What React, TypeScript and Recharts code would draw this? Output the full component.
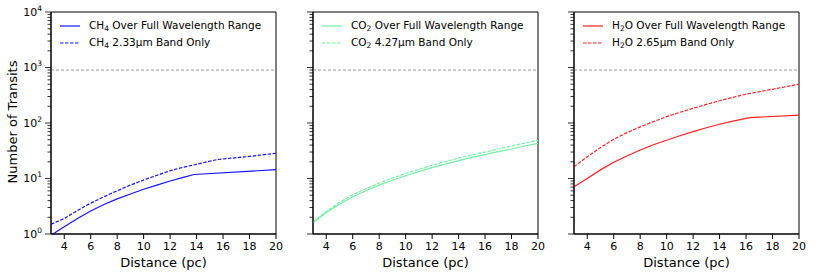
import React from "react";
import {LineChart, Line, XAxis, YAxis, ReferenceLine, ReferenceArea} from "recharts";

// distances (pc) and number of transits
const ch4FullDist = [3, 4, 5, 6, 7, 8, 9, 10, 11, 12, 13, 13.8, 20];
const ch4FullVals = [0.95, 1.35, 1.9, 2.6, 3.4, 4.3, 5.25, 6.4, 7.6, 9.0, 10.5, 11.8, 14.4];
const ch4BandDist = [3, 4, 5, 6, 7, 8, 9, 10, 11, 12, 13, 14, 15, 15.6, 18, 20];
const ch4BandVals = [1.5, 1.9, 2.65, 3.6, 4.7, 6.0, 7.6, 9.4, 11.4, 13.8, 16, 18, 20.5, 22, 25, 28.5];

const co2Dist = [3, 4, 5, 6, 7, 8, 9, 10, 11, 12, 13, 14, 15, 16, 17, 18, 19, 20];
const co2FullVals = [1.6, 2.45, 3.45, 4.7, 6.0, 7.6, 9.3, 11.2, 13.3, 15.7, 18.2, 21, 24, 27, 30.5, 34, 38.5, 43];
const co2BandVals = [1.65, 2.55, 3.7, 5.1, 6.5, 8.3, 10.2, 12.3, 14.7, 17.3, 20.2, 23.3, 26.6, 30, 34, 38.5, 43.5, 49];

const h2oFullDist = [3, 4, 5, 6, 7, 8, 9, 10, 11, 12, 13, 14, 15, 16.3, 20];
const h2oFullVals = [7.1, 10, 14.3, 19.6, 25.5, 32.6, 40.5, 49, 59, 70, 82, 95, 108, 125, 139];
const h2oBandDist = [3, 4, 5, 6, 7, 8, 9, 10, 11, 12, 13, 14, 15, 16, 17, 18, 19, 20];
const h2oBandVals = [16.3, 24.7, 36, 51, 67, 85, 106, 130, 156, 184, 216, 252, 290, 330, 368, 405, 450, 500];

const transitLimit = 900;

const xTicks = [4, 6, 8, 10, 12, 14, 16, 18, 20];
const yTicks: number[] = [];
for (let e = 0; e < 4; e++) {
    for (let m = 1; m < 10; m++) yTicks.push(m * Math.pow(10, e));
}
yTicks.push(10000);

const toPoints = (xs: number[], ys: number[]) => xs.map((d, i) => ({d, n: ys[i]}));

interface Panel {
    left: number;
    mol: string;
    sub: string;
    band: string;
    color: string;
    full: {d: number, n: number}[];
    part: {d: number, n: number}[];
    labels: boolean;
}

const panels: Panel[] = [
    {left: 0, mol: "CH", sub: "4", band: "2.33", color: "#1414ff",
        full: toPoints(ch4FullDist, ch4FullVals), part: toPoints(ch4BandDist, ch4BandVals), labels: true},
    {left: 262, mol: "CO", sub: "2", band: "4.27", color: "#72f0a4",
        full: toPoints(co2Dist, co2FullVals), part: toPoints(co2Dist, co2BandVals), labels: false},
    {left: 523, mol: "H", sub: "2", band: "2.65", color: "#ff2020",
        full: toPoints(h2oFullDist, h2oFullVals), part: toPoints(h2oBandDist, h2oBandVals), labels: false},
];

const AXIS_W = 51;
const PLOT_W = 225;
const RIGHT_PAD = 16;
const PLOT_TOP = 12;
const X_H = 43;

function LogTick(props: any) {
    const {x, y, payload, showLabel} = props;
    const v = payload.value;
    const exp = Math.log10(v);
    const major = Math.abs(exp - Math.round(exp)) < 1e-6;
    const len = major ? 6 : 3.5;
    return <g>
        <line x1={x - len} x2={x} y1={y} y2={y} stroke="#000" strokeWidth={0.8}/>
        {major && showLabel &&
            <text x={x - 9} y={y} dy="0.35em" textAnchor="end" fontSize={11} fill="#000">
                <tspan>10</tspan>
                <tspan dy={-5} fontSize={7.5}>{Math.round(exp)}</tspan>
            </text>}
    </g>;
}

function YLabel(props: any) {
    const {viewBox} = props;
    const cx = viewBox.x + 12;
    const cy = viewBox.y + viewBox.height / 2 - 1;
    return <text x={cx} y={cy} transform={`rotate(-90 ${cx} ${cy})`} textAnchor="middle"
                 dominantBaseline="central" fontSize={13} fill="#000">Number of Transits</text>;
}

function XLabel(props: any) {
    const {viewBox} = props;
    return <text x={viewBox.x + viewBox.width / 2} y={viewBox.y + viewBox.height - 10.5}
                 textAnchor="middle" fontSize={13} fill="#000">Distance (pc)</text>;
}

function PanelLegend(props: { panel: Panel }) {
    const {panel} = props;
    const rows = [
        {dash: undefined, text: "Over Full Wavelength Range"},
        {dash: "3.5 1.5", text: `${panel.band}\u03bcm Band Only`},
    ];
    return <div style={{position: "absolute", left: AXIS_W + 9, top: 17, fontSize: 10.5}}>
        {rows.map((r, i) =>
            <div key={i} style={{display: "flex", alignItems: "center", height: 17}}>
                <svg width={20} height={6} style={{marginRight: 9}}>
                    <line x1={0} x2={20} y1={3} y2={3} stroke={panel.color} strokeWidth={1.2}
                          strokeDasharray={r.dash}/>
                </svg>
                <span style={{whiteSpace: "nowrap"}}>
                    {panel.mol}<sub style={{fontSize: 7.5, verticalAlign: "-2px"}}>{panel.sub}</sub>
                    {panel.mol === "H" ? "O" : ""} {r.text}
                </span>
            </div>
        )}
    </div>;
}

function TransitPanel(props: { panel: Panel }) {
    const {panel} = props;
    return <div style={{position: "absolute", left: panel.left, top: 0}}>
        <LineChart width={AXIS_W + PLOT_W + RIGHT_PAD} height={277}
                   margin={{top: PLOT_TOP, right: RIGHT_PAD, bottom: 0, left: 0}}>
            <XAxis type="number" dataKey="d" domain={[3, 20]} ticks={xTicks} interval={0}
                   allowDataOverflow height={X_H} tickSize={5} tickMargin={3.5}
                   tick={{fontSize: 11, fill: "#000"}} stroke="#000"
                   label={<XLabel/>}/>
            <YAxis type="number" scale="log" domain={[1, 10000]} allowDataOverflow
                   ticks={yTicks} interval={0} width={AXIS_W} tickSize={0} tickMargin={0}
                   tickLine={false} stroke="#000"
                   tick={(p: any) => <LogTick {...p} showLabel={panel.labels}/>}
                   label={panel.labels ? <YLabel/> : undefined}/>
            <ReferenceArea x1={3} x2={20} y1={1} y2={10000} fill="none" stroke="#000" strokeWidth={1}
                           fillOpacity={0}/>
            <ReferenceLine y={transitLimit} stroke="#999" strokeDasharray="3 2" strokeWidth={1}/>
            <Line data={panel.full} dataKey="n" stroke={panel.color} strokeWidth={1.2} dot={false}
                  isAnimationActive={false}/>
            <Line data={panel.part} dataKey="n" stroke={panel.color} strokeWidth={1.2} dot={false}
                  strokeDasharray="3.5 1.5" isAnimationActive={false}/>
        </LineChart>
        <PanelLegend panel={panel}/>
    </div>;
}

export default function App() {
    return <div style={{position: "absolute", left: 0, top: 0, width: 830, height: 277,
        background: "#fff", fontFamily: "'DejaVu Sans', sans-serif"}}>
        {panels.map((p, i) => <TransitPanel key={i} panel={p}/>)}
    </div>;
}
